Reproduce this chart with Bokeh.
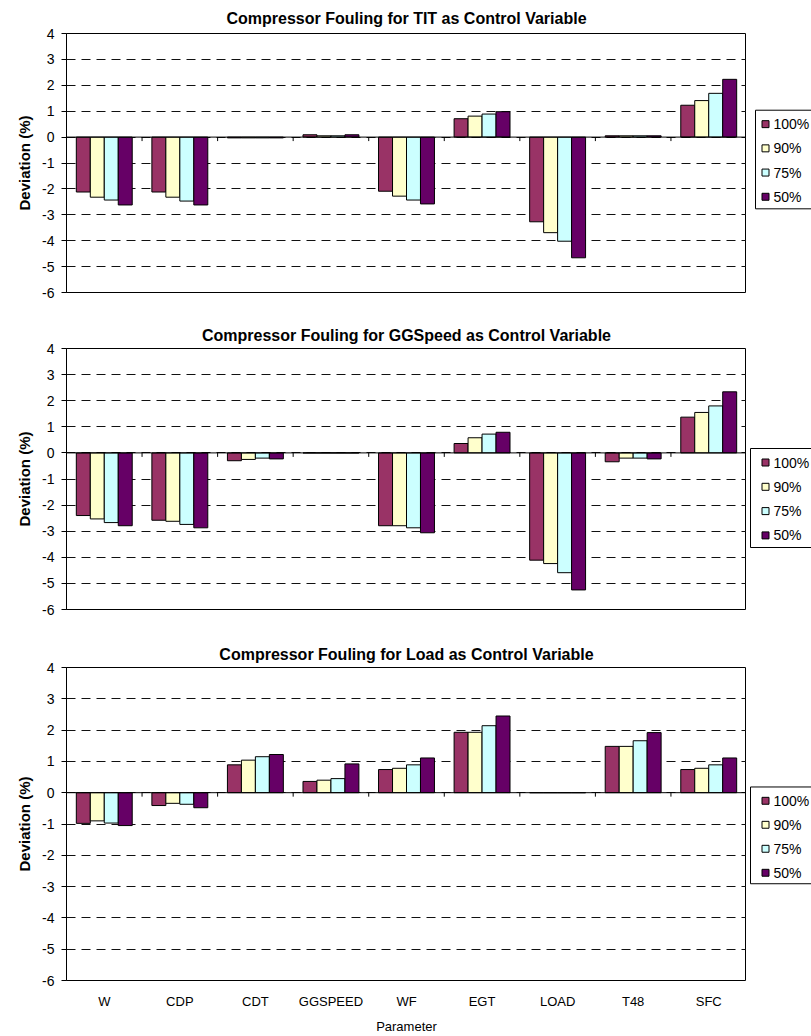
from bokeh.plotting import figure
from bokeh.models import (FactorRange, Range1d, FixedTicker, Span, ColumnDataSource)
from bokeh.core.properties import value
from bokeh.transform import dodge
from bokeh.layouts import column, row
from bokeh.embed import file_html
from bokeh.resources import INLINE

# ---------------- data ----------------
categories = ["W", "CDP", "CDT", "GGSPEED", "WF", "EGT", "LOAD", "T48", "SFC"]
series = ["100%", "90%", "75%", "50%"]
colors = ["#993366", "#FFFFCC", "#CCFFFF", "#660066"]
yticks = [-6, -5, -4, -3, -2, -1, 0, 1, 2, 3, 4]

titles = ["Compressor Fouling for TIT as Control Variable",
          "Compressor Fouling for GGSpeed as Control Variable",
          "Compressor Fouling for Load as Control Variable"]

tit_100 = [-2.12, -2.12, -0.03, 0.09, -2.09, 0.71, -3.27, 0.05, 1.23]
tit_90 = [-2.32, -2.32, -0.03, 0.05, -2.28, 0.81, -3.69, 0.05, 1.41]
tit_75 = [-2.43, -2.47, -0.03, 0.05, -2.43, 0.89, -4.02, 0.05, 1.69]
tit_50 = [-2.62, -2.62, -0.03, 0.09, -2.58, 0.98, -4.66, 0.05, 2.23]

ggs_100 = [-2.40, -2.58, -0.30, 0.0, -2.79, 0.36, -4.11, -0.34, 1.37]
ggs_90 = [-2.53, -2.62, -0.25, 0.0, -2.79, 0.58, -4.24, -0.20, 1.55]
ggs_75 = [-2.67, -2.74, -0.20, 0.0, -2.87, 0.72, -4.59, -0.20, 1.80]
ggs_50 = [-2.79, -2.87, -0.23, 0.0, -3.06, 0.79, -5.25, -0.23, 2.34]

load_100 = [-0.98, -0.41, 0.89, 0.36, 0.74, 1.93, 0.0, 1.48, 0.74]
load_90 = [-0.90, -0.34, 1.04, 0.40, 0.78, 1.93, 0.0, 1.48, 0.78]
load_75 = [-0.97, -0.37, 1.15, 0.45, 0.89, 2.14, 0.0, 1.66, 0.89]
load_50 = [-1.05, -0.48, 1.22, 0.92, 1.11, 2.45, 0.0, 1.92, 1.11]

FONT = "'Liberation Sans', Arial, sans-serif"
BAR_W = 0.185
OFFSETS = [-1.5 * BAR_W, -0.5 * BAR_W, 0.5 * BAR_W, 1.5 * BAR_W]
MAIN_W = 746
LEG_W = 65
LEFT = 66


def legend_figure(height, top, bottom, box_left, box_bottom, box_h):
    """Narrow figure at the right of a panel; its frame is in pixel units."""
    frame_h = height - top - bottom
    q = figure(width=LEG_W, height=height, output_backend="svg", toolbar_location=None,
               x_axis_type=None, y_axis_type=None,
               x_range=Range1d(0, LEG_W), y_range=Range1d(0, frame_h),
               min_border_left=0, min_border_right=0,
               min_border_top=top, min_border_bottom=bottom)
    q.title.visible = False
    q.outline_line_color = None
    q.xgrid.visible = False
    q.ygrid.visible = False
    q.background_fill_color = "white"
    q.border_fill_color = "white"
    box_top = box_bottom + box_h
    q.quad(left=[box_left], right=[LEG_W + 10], bottom=[box_bottom], top=[box_top],
           fill_color="white", line_color="black", line_width=1)
    ys = [box_top - 14 - 24.3 * i for i in range(len(series))]
    q.quad(left=[15.5] * len(series), right=[22.5] * len(series),
           bottom=[y - 3.5 for y in ys], top=[y + 3.5 for y in ys],
           fill_color=colors, line_color="black", line_width=1)
    q.text(x=[27] * len(series), y=ys, text=series,
           text_font=value(FONT), text_font_size=value("14px"),
           text_baseline="middle", text_align="left", text_color="black")
    return q


def make_panel(title, vals, height, top, bottom, title_standoff, leg, show_x):
    frame_h = height - top - bottom
    p = figure(x_range=FactorRange(*categories), y_range=Range1d(yticks[0], yticks[-1]),
               width=MAIN_W, height=height, output_backend="svg", toolbar_location=None,
               min_border_left=LEFT, min_border_right=0,
               min_border_top=top, min_border_bottom=bottom)
    p.background_fill_color = "white"
    p.border_fill_color = "white"
    p.outline_line_color = "black"
    p.outline_line_width = 1
    p.outline_line_alpha = 1

    # title
    p.title.text = title
    p.title.text_font = FONT
    p.title.text_font_size = "16px"
    p.title.text_font_style = "bold"
    p.title.align = "center"
    p.title.standoff = title_standoff
    p.title.text_color = "black"

    # grid
    p.xgrid.visible = False
    p.ygrid.ticker = FixedTicker(ticks=yticks)
    p.ygrid.grid_line_color = "#111111"
    p.ygrid.grid_line_dash = "9 6"
    p.ygrid.grid_line_width = 1

    # y axis
    yax = p.yaxis[0]
    yax.ticker = FixedTicker(ticks=yticks)
    yax.major_label_overrides = {t: str(t) for t in yticks}
    yax.major_tick_in = 0
    yax.major_tick_out = 5
    yax.minor_tick_line_color = None
    yax.axis_line_color = "black"
    yax.major_tick_line_color = "black"
    yax.major_label_text_font = FONT
    yax.major_label_text_font_size = "14px"
    yax.major_label_text_color = "black"
    yax.major_label_standoff = 7
    yax.axis_label = "Deviation (%)"
    yax.axis_label_text_font = FONT
    yax.axis_label_text_font_size = "15px"
    yax.axis_label_text_font_style = "bold"
    yax.axis_label_text_color = "black"
    yax.axis_label_standoff = 6

    # x axis
    xax = p.xaxis[0]
    if show_x:
        xax.axis_line_color = None
        xax.major_tick_line_color = None
        xax.major_tick_out = 0
        xax.major_tick_in = 0
        xax.major_label_standoff = 13
        xax.major_label_text_font = FONT
        xax.major_label_text_font_size = "13px"
        xax.major_label_text_color = "black"
        xax.axis_label = "Parameter"
        xax.axis_label_text_font = FONT
        xax.axis_label_text_font_size = "13px"
        xax.axis_label_text_font_style = "normal"
        xax.axis_label_text_color = "black"
        xax.axis_label_standoff = 7
    else:
        xax.visible = False

    data = dict(cat=categories)
    for s, v in zip(series, vals):
        data[s] = v
    src = ColumnDataSource(data)

    for s, off, c in zip(series, OFFSETS, colors):
        p.vbar(x=dodge("cat", off, range=p.x_range), top=s, bottom=0, width=BAR_W,
               source=src, fill_color=c, line_color="black", line_width=1)

    # zero line with category-boundary ticks
    p.add_layout(Span(location=0, dimension="width", line_color="black", line_width=1))
    tick_len = 4.0 * (yticks[-1] - yticks[0]) / frame_h
    p.segment(x0=dodge("cat", 0.5, range=p.x_range), x1=dodge("cat", 0.5, range=p.x_range),
              y0=0, y1=-tick_len, source=src, line_color="black", line_width=1)

    q = legend_figure(height, top, bottom, *leg)
    return row(p, q, spacing=0)


p1 = make_panel(titles[0], [tit_100, tit_90, tit_75, tit_50], 318, 32, 26, 14, (9, 84, 99), False)
p2 = make_panel(titles[1], [ggs_100, ggs_90, ggs_75, ggs_50], 320, 30, 29, 10, (4, 62, 99), False)
p3 = make_panel(titles[2], [load_100, load_90, load_75, load_50], 398, 27, 54, 10, (4, 98, 98), True)

layout = column(p1, p2, p3, spacing=0)
open("out.html", "w").write(file_html(layout, INLINE, title="Compressor Fouling"))
